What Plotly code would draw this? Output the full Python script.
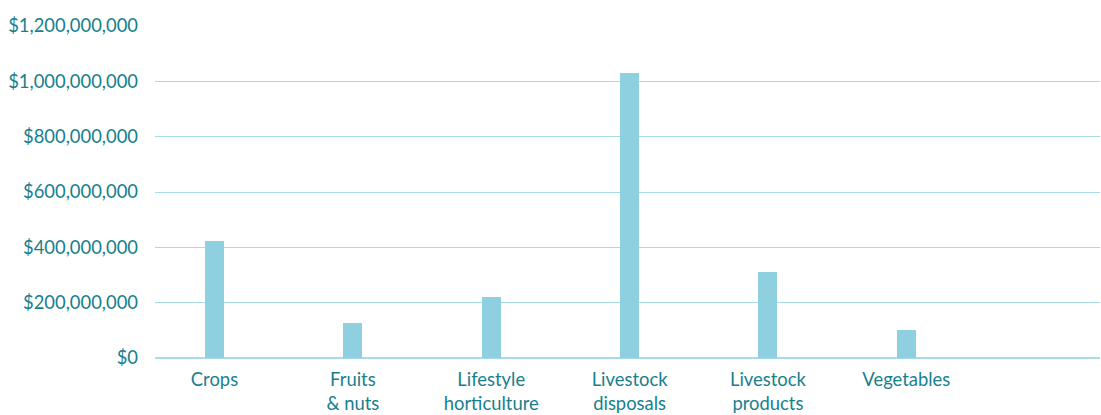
import plotly.graph_objects as go

categories = ["Crops", "Fruits<br>& nuts", "Lifestyle<br>horticulture",
              "Livestock<br>disposals", "Livestock<br>products", "Vegetables"]
values = [422000000, 125000000, 220000000, 1030000000, 310000000, 100000000]
tick_vals = [0, 200000000, 400000000, 600000000, 800000000, 1000000000, 1200000000]
tick_text = ["$0", "$200,000,000", "$400,000,000", "$600,000,000",
             "$800,000,000", "$1,000,000,000", "$1,200,000,000"]

teal = "#17808d"
grid = "#a9dbe6"

fig = go.Figure(go.Bar(x=categories, y=values, marker_color="#8fd0e0",
                       marker_line_width=0, width=0.137))
fig.update_layout(
    width=1101, height=415,
    margin=dict(l=155, r=1, t=26, b=57),
    paper_bgcolor="white", plot_bgcolor="white",
    font=dict(family="Lato", size=18.4, color=teal),
    showlegend=False,
    bargap=0,
)
fig.update_xaxes(type="category", range=[-0.43, 6.4], showgrid=False,
                 showline=False, zeroline=False, ticks="", ticklabelstandoff=9,
                 tickfont=dict(size=18.4, color=teal))
fig.update_yaxes(range=[0, 1200000000], tickvals=tick_vals, ticktext=tick_text,
                 showgrid=True, gridcolor=grid, gridwidth=1, zeroline=True,
                 zerolinecolor=grid, zerolinewidth=2, showline=False, ticks="",
                 ticklabelstandoff=16, tickfont=dict(size=18.4, color=teal))
fig.write_html("out.html")
